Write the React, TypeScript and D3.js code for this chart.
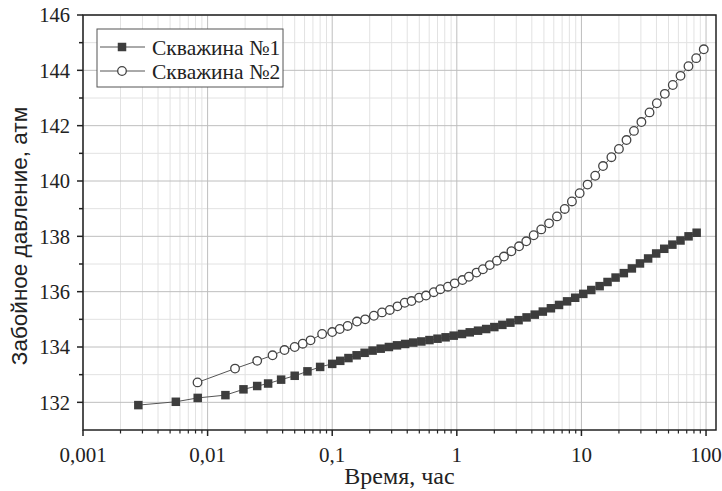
import React from "react";
import * as d3 from "d3";

const t1 = [0.00278, 0.00556, 0.00833, 0.0139, 0.0194, 0.025, 0.0306, 0.0389, 0.05, 0.0633, 0.08,
  0.1, 0.116, 0.135, 0.157, 0.182, 0.211, 0.245, 0.285, 0.331, 0.385, 0.447, 0.519, 0.603, 0.7, 0.813, 0.944,
  1.1, 1.27, 1.48, 1.72, 2.0, 2.32, 2.69, 3.13, 3.63, 4.22, 4.9, 5.69, 6.61, 7.67, 8.91,
  10.35, 12.0, 14.0, 16.2, 18.8, 21.9, 25.4, 29.5, 34.3, 39.8, 46.2, 53.7, 62.4, 72.4, 84.1];
const p1 = [131.9, 132.02, 132.16, 132.26, 132.47, 132.59, 132.68, 132.82, 132.96, 133.12, 133.28,
  133.39, 133.5, 133.6, 133.7, 133.79, 133.87, 133.94, 134.0, 134.06, 134.11, 134.16, 134.2, 134.25, 134.3, 134.35, 134.41,
  134.47, 134.53, 134.59, 134.65, 134.72, 134.8, 134.88, 134.97, 135.07, 135.17, 135.28, 135.4, 135.52, 135.65, 135.78,
  135.92, 136.06, 136.2, 136.35, 136.51, 136.67, 136.84, 137.02, 137.2, 137.38, 137.55, 137.7, 137.85, 138.0, 138.13];

const t2 = [0.0083, 0.0166, 0.025, 0.0332, 0.0414, 0.05, 0.058, 0.067, 0.083, 0.1, 0.115, 0.133, 0.158, 0.184,
  0.216, 0.251, 0.29, 0.334, 0.382, 0.433, 0.498, 0.566, 0.653, 0.738, 0.849, 0.962,
  1.11, 1.25, 1.44, 1.62, 1.84, 2.1, 2.39, 2.74, 3.16, 3.61, 4.14, 4.76, 5.5, 6.37, 7.35, 8.39, 9.68,
  11.2, 12.9, 14.9, 17.4, 20.0, 23.0, 26.4, 30.3, 35.2, 40.3, 46.7, 54.1, 62.4, 72.3, 83.4, 95.9];
const p2 = [132.72, 133.22, 133.5, 133.7, 133.89, 134.0, 134.12, 134.24, 134.47, 134.54, 134.65, 134.76, 134.92, 135.0,
  135.13, 135.25, 135.34, 135.47, 135.6, 135.66, 135.78, 135.86, 135.98, 136.09, 136.18, 136.3,
  136.42, 136.54, 136.69, 136.81, 136.96, 137.12, 137.27, 137.46, 137.64, 137.82, 138.04, 138.25, 138.47, 138.72, 138.99, 139.26, 139.56,
  139.87, 140.19, 140.54, 140.86, 141.16, 141.48, 141.81, 142.13, 142.48, 142.81, 143.15, 143.47, 143.8, 144.15, 144.44, 144.76];

const xTicks = [0.001, 0.01, 0.1, 1, 10, 100];
const xTickLabels = ["0,001", "0,01", "0,1", "1", "10", "100"];
const yTicks = [132, 134, 136, 138, 140, 142, 144, 146];
const seriesNames = ["Скважина №1", "Скважина №2"];
const xTitle = "Время, час";
const yTitle = "Забойное давление, атм";

const W = 722, H = 491;
const X0 = 83, X1 = 716, Y0 = 15, Y1 = 430;

export default function App() {
  const x = d3.scaleLog().domain([0.001, Math.pow(10, 2.08)]).range([X0, X1]);
  const y = d3.scaleLinear().domain([131, 146]).range([Y1, Y0]);
  const [xmin, xmax] = x.domain();

  const minorX: number[] = [];
  for (let e = -3; e <= 2; e++) {
    for (let k = 2; k <= 9; k++) {
      const v = k * Math.pow(10, e);
      if (v < xmax) minorX.push(v);
    }
  }
  const allY = d3.range(132, 146, 1);
  const line = d3.line<[number, number]>().x(d => x(d[0])).y(d => y(d[1]));
  const d1 = t1.map((t, i) => [t, p1[i]] as [number, number]);
  const d2 = t2.map((t, i) => [t, p2[i]] as [number, number]);
  const serif = "'Liberation Serif', 'Times New Roman', serif";
  const sans = "'Liberation Sans', Arial, sans-serif";
  const sq = 8.5;
  const lineCol = "#555";
  const markCol = "#3d3d3d";

  return (
    <svg width={W} height={H} style={{ position: "absolute", left: 0, top: 0, background: "#fff" }}>
      <rect x={0} y={0} width={W} height={H} fill="#fff" />
      {minorX.map((v, i) => (
        <line key={"mx" + i} x1={x(v)} x2={x(v)} y1={Y0} y2={Y1} stroke="#e2e2e2" strokeWidth={1} />
      ))}
      {allY.filter(v => v % 2 === 1).map((v, i) => (
        <line key={"my" + i} x1={X0} x2={X1} y1={y(v)} y2={y(v)} stroke="#e2e2e2" strokeWidth={1} />
      ))}
      {xTicks.map((v, i) => (
        <line key={"gx" + i} x1={x(v)} x2={x(v)} y1={Y0} y2={Y1} stroke="#bebebe" strokeWidth={1} />
      ))}
      {yTicks.map((v, i) => (
        <line key={"gy" + i} x1={X0} x2={X1} y1={y(v)} y2={y(v)} stroke="#bebebe" strokeWidth={1} />
      ))}
      <path d={line(d1) || ""} fill="none" stroke={lineCol} strokeWidth={1} />
      <path d={line(d2) || ""} fill="none" stroke={lineCol} strokeWidth={1} />
      {d1.map((d, i) => (
        <rect key={"s" + i} x={x(d[0]) - sq / 2} y={y(d[1]) - sq / 2} width={sq} height={sq} fill={markCol} />
      ))}
      {d2.map((d, i) => (
        <circle key={"c" + i} cx={x(d[0])} cy={y(d[1])} r={4.3} fill="#fff" stroke="#444" strokeWidth={1.3} />
      ))}
      <rect x={X0} y={Y0} width={X1 - X0} height={Y1 - Y0} fill="none" stroke="#222" strokeWidth={1.5} />
      {allY.concat([146]).map((v, i) => (
        <line key={"yt" + i} x1={X0 - (v % 2 === 0 ? 6 : 4)} x2={X0} y1={y(v)} y2={y(v)} stroke="#222" strokeWidth={1.5} />
      ))}
      {yTicks.map((v, i) => (
        <text key={"yl" + i} x={70} y={y(v)} dy="0.35em" textAnchor="end" fontFamily={serif} fontSize={20.5} fill="#222">{v}</text>
      ))}
      {xTicks.map((v, i) => (
        <line key={"xt" + i} x1={x(v)} x2={x(v)} y1={Y1} y2={Y1 + 6} stroke="#222" strokeWidth={1.5} />
      ))}
      {minorX.filter(v => v >= xmin).map((v, i) => (
        <line key={"xm" + i} x1={x(v)} x2={x(v)} y1={Y1} y2={Y1 + 3.5} stroke="#222" strokeWidth={1.2} />
      ))}
      {xTicks.map((v, i) => (
        <text key={"xl" + i} x={x(v)} y={462} textAnchor="middle" fontFamily={serif} fontSize={21} fill="#222">{xTickLabels[i]}</text>
      ))}
      <text x={(X0 + X1) / 2} y={484} textAnchor="middle" fontFamily={serif} fontSize={24} fill="#222">{xTitle}</text>
      <text transform={`translate(27,236) rotate(-90)`} textAnchor="middle" fontFamily={sans} fontSize={22.5} fill="#222">{yTitle}</text>
      <rect x={97} y={29} width={186} height={58} fill="#fff" stroke="#555" strokeWidth={1} />
      <line x1={100} x2={145} y1={47} y2={47} stroke={lineCol} strokeWidth={1} />
      <rect x={122 - sq / 2} y={47 - sq / 2} width={sq} height={sq} fill={markCol} />
      <text x={152} y={47} dy="0.35em" fontFamily={serif} fontSize={21.5} fill="#222">{seriesNames[0]}</text>
      <line x1={100} x2={145} y1={71} y2={71} stroke={lineCol} strokeWidth={1} />
      <circle cx={122} cy={71} r={4.3} fill="#fff" stroke="#444" strokeWidth={1.3} />
      <text x={152} y={71} dy="0.35em" fontFamily={serif} fontSize={21.5} fill="#222">{seriesNames[1]}</text>
    </svg>
  );
}
